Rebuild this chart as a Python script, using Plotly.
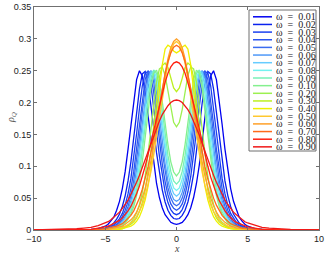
import plotly.graph_objects as go

# half-axis sample positions (curves are symmetric about x = 0)
x_half = [0, 0.2, 0.4, 0.6, 0.8, 1.0, 1.2, 1.4, 1.6, 1.8, 2.0, 2.2, 2.4, 2.6, 2.8, 3.0,
          3.2, 3.4, 3.6, 3.8, 4.0, 4.2, 4.4, 4.6, 4.8, 5.0, 5.5, 6.0, 6.5, 7.0, 8.0, 10.0]

omega = ["0.01", "0.02", "0.03", "0.04", "0.05", "0.06", "0.07", "0.08", "0.09",
         "0.10", "0.20", "0.30", "0.40", "0.50", "0.60", "0.70", "0.80", "0.90"]

# rho_Q, in thousandths, at x_half
rho_001 = [9, 10, 12, 17, 24, 35, 51, 73, 102, 139, 178, 216, 242, 250, 236, 205, 166, 127, 92, 65, 45, 31, 20, 14, 9, 6, 2, 1, 0, 0, 0, 0]
rho_002 = [17, 18, 23, 31, 44, 63, 88, 121, 160, 199, 232, 249, 245, 221, 185, 144, 107, 77, 54, 37, 25, 17, 11, 7, 5, 3, 1, 0, 0, 0, 0, 0]
rho_003 = [24, 26, 32, 43, 60, 84, 116, 154, 194, 228, 248, 247, 226, 191, 151, 113, 81, 57, 39, 26, 18, 12, 8, 5, 3, 2, 1, 0, 0, 0, 0, 0]
rho_004 = [31, 34, 41, 55, 76, 104, 140, 179, 216, 243, 250, 236, 205, 166, 127, 92, 65, 45, 31, 21, 14, 9, 6, 4, 3, 2, 1, 0, 0, 0, 0, 0]
rho_005 = [38, 41, 50, 66, 90, 122, 160, 199, 232, 249, 246, 222, 186, 146, 109, 78, 54, 37, 25, 17, 11, 7, 5, 3, 2, 1, 0, 0, 0, 0, 0, 0]
rho_006 = [45, 48, 59, 77, 104, 138, 177, 215, 242, 250, 238, 208, 169, 130, 95, 67, 46, 31, 21, 14, 9, 6, 4, 3, 2, 1, 0, 0, 0, 0, 0, 0]
rho_007 = [53, 57, 69, 90, 119, 155, 194, 228, 248, 248, 228, 193, 153, 115, 83, 58, 40, 27, 18, 12, 8, 5, 3, 2, 1, 1, 0, 0, 0, 0, 0, 0]
rho_008 = [62, 66, 80, 103, 134, 171, 209, 239, 251, 242, 215, 177, 137, 101, 72, 50, 34, 23, 15, 10, 7, 4, 3, 2, 1, 1, 0, 0, 0, 0, 0, 0]
rho_009 = [72, 77, 92, 117, 150, 188, 223, 246, 251, 234, 202, 162, 123, 89, 63, 43, 29, 20, 13, 9, 6, 4, 2, 2, 1, 1, 0, 0, 0, 0, 0, 0]
rho_010 = [85, 91, 107, 134, 168, 205, 236, 251, 246, 222, 185, 145, 107, 77, 54, 37, 25, 17, 11, 7, 5, 3, 2, 1, 1, 1, 0, 0, 0, 0, 0, 0]
rho_020 = [162, 169, 189, 217, 243, 256, 253, 233, 197, 156, 117, 84, 59, 40, 27, 18, 12, 8, 5, 4, 2, 2, 1, 1, 0, 0, 0, 0, 0, 0, 0, 0]
rho_030 = [217, 223, 238, 255, 262, 258, 240, 205, 163, 123, 89, 62, 43, 29, 19, 13, 9, 6, 4, 2, 2, 1, 1, 0, 0, 0, 0, 0, 0, 0, 0, 0]
rho_040 = [278, 281, 287, 290, 284, 259, 220, 176, 133, 96, 68, 47, 32, 21, 14, 9, 6, 4, 3, 2, 1, 1, 1, 0, 0, 0, 0, 0, 0, 0, 0, 0]
rho_050 = [296, 292, 280, 262, 237, 208, 177, 146, 117, 91, 70, 53, 39, 29, 21, 15, 11, 8, 6, 4, 3, 2, 1, 1, 1, 1, 0, 0, 0, 0, 0, 0]
rho_060 = [300, 296, 286, 269, 246, 219, 190, 161, 132, 107, 84, 65, 50, 38, 28, 21, 16, 12, 9, 6, 5, 3, 3, 2, 1, 1, 0, 0, 0, 0, 0, 0]
rho_070 = [290, 287, 278, 264, 245, 222, 197, 171, 146, 121, 99, 80, 64, 50, 39, 30, 23, 18, 14, 10, 8, 6, 5, 3, 3, 2, 1, 0, 0, 0, 0, 0]
rho_080 = [264, 262, 256, 246, 232, 216, 198, 178, 157, 137, 118, 100, 83, 69, 57, 46, 37, 30, 24, 19, 15, 12, 10, 8, 6, 5, 3, 1, 1, 0, 0, 0]
rho_090 = [204, 203, 200, 195, 189, 181, 171, 160, 149, 136, 123, 111, 98, 86, 75, 65, 56, 47, 40, 34, 28, 24, 20, 16, 13, 11, 7, 4, 3, 2, 1, 0]

series = [rho_001, rho_002, rho_003, rho_004, rho_005, rho_006, rho_007, rho_008, rho_009,
          rho_010, rho_020, rho_030, rho_040, rho_050, rho_060, rho_070, rho_080, rho_090]

colors = ["#0000f0", "#0a22ee", "#1a40f0", "#2a55f0", "#3a6cf0", "#4e98f8", "#66ccff",
          "#74f2f0", "#78f0b8", "#84f08e", "#9cf050", "#bcf020", "#eef000", "#ffc830",
          "#ffa028", "#ff6a1a", "#ff2010", "#f01818"]

x_full = [-v for v in x_half[::-1]] + x_half[1:]

fig = go.Figure()
for name, vals, col in zip(omega, series, colors):
    y_full = [v / 1000 for v in vals[::-1]] + [v / 1000 for v in vals[1:]]
    fig.add_trace(go.Scatter(x=x_full, y=y_full, mode="lines", name="ω = " + name,
                             line=dict(color=col, width=1.3), showlegend=False,
                             hoverinfo="skip"))

W, H = 327, 254
L, R, T, B = 34, 8, 7, 24
pw, ph = W - L - R, H - T - B

def px(xp):
    return (xp - L) / pw

def py(yp):
    return (H - B - yp) / ph

shapes = [dict(type="rect", xref="paper", yref="paper", x0=px(249), x1=px(316),
               y0=py(151), y1=py(10), line=dict(color="#6e6e6e", width=1),
               fillcolor="white", layer="above")]
annotations = []
for i, (name, col) in enumerate(zip(omega, colors)):
    yc = 16.8 + i * 7.65
    shapes.append(dict(type="line", xref="paper", yref="paper", x0=px(253), x1=px(272),
                       y0=py(yc), y1=py(yc), line=dict(color=col, width=1.5), layer="above"))
    annotations.append(dict(xref="paper", yref="paper", x=px(273.5), y=py(yc),
                            xanchor="left", yanchor="middle", showarrow=False,
                            text="ω\u00a0\u00a0=\u00a0\u00a0" + name,
                            font=dict(family="Liberation Serif", size=10, color="#222")))

annotations.append(dict(xref="paper", yref="paper", x=0.5, y=py(248.5), xanchor="center",
                        yanchor="middle", showarrow=False, text="<i>x</i>",
                        font=dict(family="Liberation Serif", size=10, color="#444")))
annotations.append(dict(xref="paper", yref="paper", x=px(11), y=py(118), xanchor="center",
                        yanchor="middle", showarrow=False, textangle=-90,
                        text="<i>ρ</i><sub><i>Q</i></sub>",
                        font=dict(family="Liberation Serif", size=10, color="#555")))

axis_common = dict(showline=True, linecolor="#707070", linewidth=1, mirror="ticks",
                   ticks="inside", ticklen=3, tickcolor="#707070", showgrid=False,
                   zeroline=False, automargin=False,
                   tickfont=dict(family="Liberation Sans", size=9, color="#222"))

fig.update_layout(
    width=W, height=H, margin=dict(l=L, r=R, t=T, b=B, autoexpand=False),
    paper_bgcolor="white", plot_bgcolor="white",
    xaxis=dict(range=[-10, 10], tickvals=[-10, -5, 0, 5, 10], **axis_common),
    yaxis=dict(range=[0, 0.35], tickvals=[0, 0.05, 0.1, 0.15, 0.2, 0.25, 0.3, 0.35],
               ticktext=["0", "0.05", "0.1", "0.15", "0.2", "0.25", "0.3", "0.35"],
               **axis_common),
    shapes=shapes, annotations=annotations, showlegend=False,
)
fig.write_html("out.html", config={"displayModeBar": False},
               post_script="document.body.style.margin='0';document.body.style.overflow='hidden';")
